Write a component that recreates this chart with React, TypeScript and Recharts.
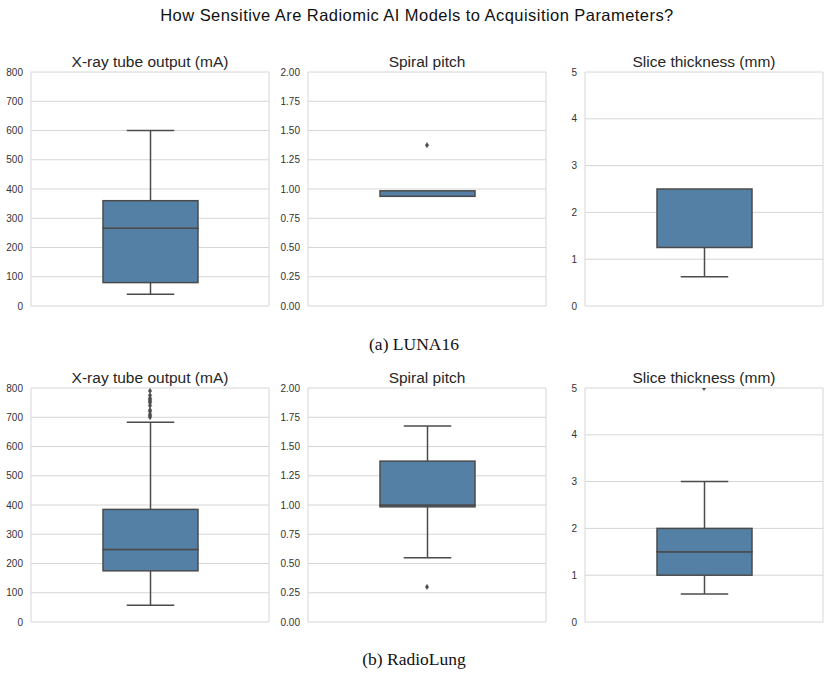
import React from 'react';
import { ComposedChart, Bar, Scatter, XAxis, YAxis, CartesianGrid } from 'recharts';

const figureTitle = 'How Sensitive Are Radiomic AI Models to Acquisition Parameters?';
const panelTitles = ['X-ray tube output (mA)', 'Spiral pitch', 'Slice thickness (mm)'];
const rowCaptions = ['(a) LUNA16', '(b) RadioLung'];

// Five-number summaries: [lower whisker, Q1, median, Q3, upper whisker]
const luna16Tube = [40, 80, 266, 360, 600];
const luna16Pitch = [0.9375, 0.9375, 0.984375, 0.984375, 0.984375];
const luna16Slice = [0.625, 1.25, 2.5, 2.5, 2.5];
const radioLungTube = [57, 175, 248, 385, 683];
const radioLungPitch = [0.55, 0.984375, 1.0, 1.375, 1.675];
const radioLungSlice = [0.6, 1.0, 1.5, 2.0, 3.0];

// Points beyond the whiskers
const luna16TubeOutliers: number[] = [];
const luna16PitchOutliers = [1.375];
const luna16SliceOutliers: number[] = [];
const radioLungTubeOutliers = [700, 705, 710, 720, 725, 740, 750, 755, 760, 765, 775, 790];
const radioLungPitchOutliers = [0.3];
const radioLungSliceOutliers = [5];

// Y-axis tick values
const tubeTicks = [0, 100, 200, 300, 400, 500, 600, 700, 800];
const pitchTicks = [0, 0.25, 0.5, 0.75, 1.0, 1.25, 1.5, 1.75, 2.0];
const sliceTicks = [0, 1, 2, 3, 4, 5];

// Layout
const PLOT_LEFTS = [31, 308, 585];
const ROW_TOPS = [72, 388];
const PLOT_W = 238;
const PLOT_H = 234;
const AXIS_W = 30;
const PAD = 6;

const LINE = '#4b4b4b';
const FILL = '#5480a6';
const GRID = '#d6d6d6';
const SANS = '"Liberation Sans", Arial, sans-serif';

type BarShapeProps = { x?: number; y?: number; width?: number; height?: number };

const norm = (p: BarShapeProps) => {
  const x = Number(p.x) || 0;
  const w = Number(p.width) || 0;
  const y0 = Number(p.y) || 0;
  const h0 = Number(p.height) || 0;
  const top = Math.min(y0, y0 + h0);
  const h = Math.abs(h0);
  return { x, w, top, h };
};

const emptyShape = () => <g />;

const lowerWhisker = (p: BarShapeProps) => {
  const { x, w, top, h } = norm(p);
  if (h <= 0.01) return <g />;
  const cx = x + w / 2;
  return (
    <g stroke={LINE} strokeWidth={1.5} fill="none">
      <line x1={cx} x2={cx} y1={top} y2={top + h} />
      <line x1={cx - w / 4} x2={cx + w / 4} y1={top + h} y2={top + h} />
    </g>
  );
};

const upperWhisker = (p: BarShapeProps) => {
  const { x, w, top, h } = norm(p);
  if (h <= 0.01) return <g />;
  const cx = x + w / 2;
  return (
    <g stroke={LINE} strokeWidth={1.5} fill="none">
      <line x1={cx} x2={cx} y1={top} y2={top + h} />
      <line x1={cx - w / 4} x2={cx + w / 4} y1={top} y2={top} />
    </g>
  );
};

const boxHalf = (p: BarShapeProps) => {
  const { x, w, top, h } = norm(p);
  return <rect x={x} y={top} width={w} height={h} fill={FILL} stroke={LINE} strokeWidth={1.5} />;
};

const diamond = (p: { cx?: number; cy?: number }) => {
  const cx = Number(p.cx) || 0;
  const cy = Number(p.cy) || 0;
  return (
    <polygon
      points={`${cx},${cy - 2.6} ${cx + 1.7},${cy} ${cx},${cy + 2.6} ${cx - 1.7},${cy}`}
      fill={LINE}
      stroke={LINE}
      strokeWidth={0.5}
    />
  );
};

type PanelProps = {
  stats: number[];
  outliers: number[];
  ticks: number[];
  decimals: number;
  title: string;
  col: number;
  row: number;
};

function BoxPanel({ stats, outliers, ticks, decimals, title, col, row }: PanelProps) {
  const [lo, q1, med, q3, hi] = stats;
  const boxData = [
    { cat: 'x', base: lo, lowW: q1 - lo, lowBox: med - q1, upBox: q3 - med, upW: hi - q3 },
  ];
  const outlierData = outliers.map((v) => ({ pos: 0.5, v }));
  const plotLeft = PLOT_LEFTS[col];
  const plotTop = ROW_TOPS[row];
  const yMax = ticks[ticks.length - 1];

  return (
    <>
      <div
        style={{
          position: 'absolute',
          left: plotLeft,
          width: PLOT_W,
          top: plotTop - 18,
          textAlign: 'center',
          fontFamily: SANS,
          fontSize: 15.5,
          lineHeight: '15px',
          color: '#262626',
          whiteSpace: 'nowrap',
        }}
      >
        {title}
      </div>
      <div style={{ position: 'absolute', left: plotLeft - AXIS_W, top: plotTop - PAD }}>
        <ComposedChart
          width={AXIS_W + PLOT_W + PAD}
          height={PLOT_H + 2 * PAD}
          data={boxData}
          margin={{ top: PAD, right: PAD, bottom: PAD, left: 0 }}
        >
          <CartesianGrid
            stroke={GRID}
            strokeWidth={1}
            verticalCoordinatesGenerator={({ offset }: any) => [offset.left, offset.left + offset.width]}
          />
          <XAxis xAxisId="cat" dataKey="cat" type="category" hide />
          <XAxis xAxisId="pos" dataKey="pos" type="number" domain={[0, 1]} hide />
          <YAxis
            width={AXIS_W}
            domain={[0, yMax]}
            allowDataOverflow
            ticks={ticks}
            interval={0}
            axisLine={false}
            tickLine={false}
            tickFormatter={(v: number) => v.toFixed(decimals)}
            tick={{ fontSize: 10, fill: '#333', fontFamily: SANS }}
          />
          <Bar xAxisId="cat" dataKey="base" stackId="b" barSize={95} fill="none" shape={emptyShape} isAnimationActive={false} />
          <Bar xAxisId="cat" dataKey="lowW" stackId="b" barSize={95} shape={lowerWhisker} isAnimationActive={false} />
          <Bar xAxisId="cat" dataKey="lowBox" stackId="b" barSize={95} shape={boxHalf} isAnimationActive={false} />
          <Bar xAxisId="cat" dataKey="upBox" stackId="b" barSize={95} shape={boxHalf} isAnimationActive={false} />
          <Bar xAxisId="cat" dataKey="upW" stackId="b" barSize={95} shape={upperWhisker} isAnimationActive={false} />
          <Scatter xAxisId="pos" data={outlierData} dataKey="v" shape={diamond} isAnimationActive={false} />
        </ComposedChart>
      </div>
    </>
  );
}

const rows = [
  {
    stats: [luna16Tube, luna16Pitch, luna16Slice],
    outliers: [luna16TubeOutliers, luna16PitchOutliers, luna16SliceOutliers],
  },
  {
    stats: [radioLungTube, radioLungPitch, radioLungSlice],
    outliers: [radioLungTubeOutliers, radioLungPitchOutliers, radioLungSliceOutliers],
  },
];
const panelTicks = [tubeTicks, pitchTicks, sliceTicks];
const panelDecimals = [0, 2, 0];
const captionTops = [336, 651];

export default function App() {
  return (
    <div
      style={{
        position: 'absolute',
        left: 0,
        top: 0,
        width: 830,
        height: 677,
        background: '#fff',
        overflow: 'hidden',
      }}
    >
      <div
        style={{
          position: 'absolute',
          left: 0,
          width: 834,
          top: 7,
          textAlign: 'center',
          fontFamily: SANS,
          fontSize: 16.5,
          lineHeight: '16px',
          letterSpacing: 0.45,
          color: '#111',
          whiteSpace: 'nowrap',
        }}
      >
        {figureTitle}
      </div>
      {rows.map((r, ri) =>
        panelTitles.map((t, ci) => (
          <BoxPanel
            key={`${ri}-${ci}`}
            stats={r.stats[ci]}
            outliers={r.outliers[ci]}
            ticks={panelTicks[ci]}
            decimals={panelDecimals[ci]}
            title={t}
            col={ci}
            row={ri}
          />
        ))
      )}
      {rowCaptions.map((c, i) => (
        <div
          key={c}
          style={{
            position: 'absolute',
            left: 314,
            width: 200,
            top: captionTops[i],
            textAlign: 'center',
            fontFamily: '"Liberation Serif", "Times New Roman", serif',
            fontSize: 17.5,
            lineHeight: '17px',
            color: '#111',
            whiteSpace: 'nowrap',
          }}
        >
          {c}
        </div>
      ))}
    </div>
  );
}
